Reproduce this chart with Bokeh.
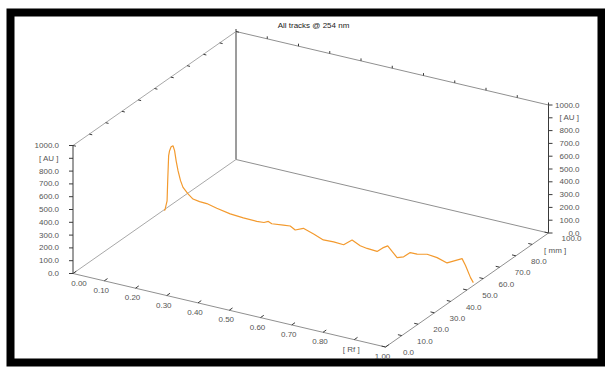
from bokeh.plotting import figure
from bokeh.models import Range1d
from bokeh.core.properties import value
from bokeh.embed import file_html
from bokeh.resources import INLINE
import math

# ---------------- data ----------------
title_text = "All tracks @ 254 nm"
track_mm = 55.8
rf_values = [0.000, 0.003, 0.010, 0.012, 0.015, 0.018, 0.023, 0.029, 0.034, 0.039,
             0.045, 0.053, 0.061, 0.077, 0.093, 0.114, 0.137, 0.169, 0.212, 0.254,
             0.297, 0.320, 0.334, 0.345, 0.382, 0.404, 0.420, 0.446, 0.479, 0.510,
             0.543, 0.575, 0.602, 0.628, 0.650, 0.682, 0.700, 0.716, 0.730, 0.746,
             0.767, 0.788, 0.810, 0.842, 0.874, 0.906, 0.954, 0.965, 0.981, 0.990]
au_values = [0, 0, 77, 235, 432, 473, 507, 518, 482, 406,
             332, 259, 211, 169, 138, 130, 128, 110, 91, 84,
             81, 85, 102, 90, 101, 106, 84, 112, 87, 58,
             62, 58, 110, 80, 72, 67, 105, 130, 95, 56,
             74, 119, 119, 137, 129, 106, 167, 120, 34, 0]

au_ticks = [0, 100, 200, 300, 400, 500, 600, 700, 800, 900, 1000]
au_labels = ["0.0", "100.0", "200.0", "300.0", "400.0", "500.0", "600.0",
             "700.0", "800.0", "[ AU ]", "1000.0"]
rf_ticks = [0.0, 0.1, 0.2, 0.3, 0.4, 0.5, 0.6, 0.7, 0.8, 0.9, 1.0]
rf_labels = ["0.00", "0.10", "0.20", "0.30", "0.40", "0.50", "0.60",
             "0.70", "0.80", "[ Rf ]", "1.00"]
mm_ticks = [0, 10, 20, 30, 40, 50, 60, 70, 80, 90, 100]
mm_labels = ["0.0", "10.0", "20.0", "30.0", "40.0", "50.0", "60.0",
             "70.0", "80.0", "[ mm ]", "100.0"]

# ---------------- projection (layout) ----------------
OX, OY = 72.5, 273.0
RX, RY = 312.5, 73.5
MX, MY = 163.0, -114.0
AH = 128.0


def proj(rf, mm, au):
    return (OX + rf * RX + mm / 100.0 * MX,
            OY + rf * RY + mm / 100.0 * MY - au / 1000.0 * AH)


W, H = 605, 367
BL, BT, BR, BB = 10, 12, 4, 5
p = figure(width=W, height=H, output_backend="svg", toolbar_location=None,
           x_range=Range1d(BL, W - BR), y_range=Range1d(H - BB, BT),
           x_axis_type=None, y_axis_type=None,
           min_border_left=BL, min_border_right=BR, min_border_top=BT, min_border_bottom=BB)
p.grid.visible = False
p.border_fill_color = "white"
p.background_fill_color = "white"
p.outline_line_color = "black"
p.outline_line_width = 8
p.outline_line_join = "miter"

FONT = value("Liberation Sans")
LIGHT = "#a8a8a8"
DARK = "#3a3a3a"
TXT = "#555555"


def seg(a, b, color, w=1.0):
    p.line([a[0], b[0]], [a[1], b[1]], line_color=color, line_width=w)


# box edges
seg(proj(0, 0, 0), proj(0, 0, 1000), DARK)           # left AU axis
seg(proj(0, 100, 0), proj(0, 100, 1000), DARK)       # back vertical
seg(proj(1, 100, 0), proj(1, 100, 1000), DARK)       # right AU axis
seg(proj(0, 0, 0), proj(0, 100, 0), LIGHT)           # left floor edge
seg(proj(0, 100, 0), proj(1, 100, 0), "#909090")     # back floor edge
seg(proj(0, 0, 1000), proj(0, 100, 1000), LIGHT)     # left top edge
seg(proj(0, 100, 1000), proj(1, 100, 1000), "#909090")  # back top edge
seg(proj(0, 0, 0), proj(1, 0, 0), "#909090")         # Rf axis
seg(proj(1, 0, 0), proj(1, 100, 0), "#909090")       # mm axis

# ticks
rlen = math.hypot(RX, RY)
mlen = math.hypot(MX, MY)
tx, ty = [], []
for a in au_ticks:
    x, y = proj(0, 0, a)
    tx.append([x - 4, x]); ty.append([y, y])
    x, y = proj(1, 100, a)
    tx.append([x, x + 4]); ty.append([y, y])
for r in rf_ticks:
    x, y = proj(r, 0, 0)
    tx.append([x, x + 4 * MX / mlen]); ty.append([y, y + 4 * MY / mlen])
    x, y = proj(r, 100, 1000)
    tx.append([x, x]); ty.append([y, y - 2.5])
for m in mm_ticks:
    x, y = proj(1, m, 0)
    tx.append([x, x - 4 * RX / rlen]); ty.append([y, y - 4 * RY / rlen])
    x, y = proj(0, m, 1000)
    tx.append([x, x + 3 * RX / rlen]); ty.append([y, y + 3 * RY / rlen])
p.multi_line(tx, ty, line_color=DARK, line_width=1)

# labels
lx = [proj(0, 0, a)[0] - 14 for a in au_ticks]
ly = [proj(0, 0, a)[1] for a in au_ticks]
p.text(lx, ly, text=au_labels, text_font=FONT, text_font_size="8px", text_color=TXT,
       text_align="right", text_baseline="middle")
rx_ = [proj(1, 100, a)[0] + 31 for a in au_ticks]
ry_ = [proj(1, 100, a)[1] for a in au_ticks]
p.text(rx_, ry_, text=au_labels, text_font=FONT, text_font_size="8px", text_color=TXT,
       text_align="right", text_baseline="middle")
fx = [proj(r, 0, 0)[0] + (6 if i == 0 else -3) for i, r in enumerate(rf_ticks)]
fy = [proj(r, 0, 0)[1] + 9.5 for r in rf_ticks]
p.text(fx, fy, text=rf_labels, text_font=FONT, text_font_size="8px", text_color=TXT,
       text_align="center", text_baseline="middle")
mx_ = [proj(1, m, 0)[0] + 23 for m in mm_ticks]
my_ = [proj(1, m, 0)[1] + 5.7 for m in mm_ticks]
p.text(mx_, my_, text=mm_labels, text_font=FONT, text_font_size="8px", text_color=TXT,
       text_align="center", text_baseline="middle")

# title
p.text([313], [25], text=[title_text], text_font=FONT, text_font_size="8px",
       text_color="#222222", text_align="center", text_baseline="middle")

# trace
trace = [proj(r, track_mm, a) for r, a in zip(rf_values, au_values)]
p.line([t[0] for t in trace], [t[1] for t in trace], line_color="#F39A2E", line_width=1.2)

open("out.html", "w").write(file_html(p, INLINE))
